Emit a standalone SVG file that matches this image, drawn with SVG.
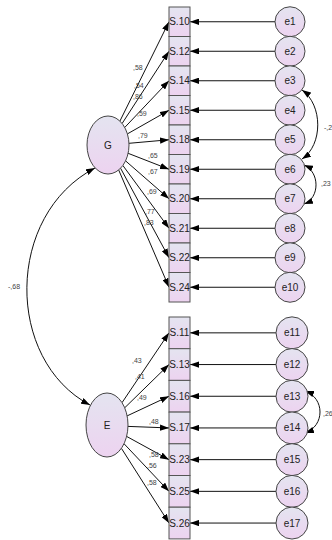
<svg xmlns="http://www.w3.org/2000/svg" width="332" height="540" viewBox="0 0 332 540">
<defs>
<linearGradient id="fill" x1="0" y1="0" x2="0" y2="1">
<stop offset="0" stop-color="#E4E4F0"/>
<stop offset="1" stop-color="#EDD3F0"/>
</linearGradient>
<marker id="ah" viewBox="0 0 10 7" refX="10" refY="3.5" markerUnits="userSpaceOnUse" markerWidth="9" markerHeight="6.3" orient="auto-start-reverse">
<path d="M0,0 L10,3.5 L0,7 z" fill="#000"/>
</marker>
</defs>
<style>
.box{fill:url(#fill);stroke:#555;stroke-width:1}
.lat{fill:url(#fill);stroke:#444;stroke-width:1}
.err{fill:url(#fill);stroke:#444;stroke-width:1}
.t{font-family:"Liberation Sans",Arial,sans-serif;font-size:10px;fill:#222;text-anchor:middle;dominant-baseline:central}
.l{font-family:"Liberation Sans",Arial,sans-serif;font-size:7px;fill:#444;dominant-baseline:central}
.c line,.c path{stroke:#111;stroke-width:1;fill:none;marker-end:url(#ah)}
.c path.d{marker-start:url(#ah)}
</style>

<g id="connectors" class="c">
<!-- G loadings -->
<line x1="119.9" y1="121.1" x2="169" y2="21.75"/>
<line x1="122.1" y1="123.5" x2="169" y2="51.25"/>
<line x1="124.7" y1="127.5" x2="169" y2="80.75"/>
<line x1="127.4" y1="133.9" x2="169" y2="110.25"/>
<line x1="129.0" y1="143.3" x2="169" y2="139.75"/>
<line x1="128.1" y1="153.3" x2="169" y2="169.25"/>
<line x1="125.6" y1="160.9" x2="169" y2="198.75"/>
<line x1="122.9" y1="165.5" x2="169" y2="228.25"/>
<line x1="120.6" y1="168.3" x2="169" y2="257.75"/>
<line x1="118.7" y1="170.0" x2="169" y2="287.25"/>
<!-- E loadings -->
<line x1="122.0" y1="402.7" x2="169" y2="332.85"/>
<line x1="124.7" y1="407.8" x2="169" y2="364.55"/>
<line x1="127.1" y1="415.9" x2="169" y2="396.25"/>
<line x1="128.0" y1="426.4" x2="169" y2="427.95"/>
<line x1="126.6" y1="436.4" x2="169" y2="459.65"/>
<line x1="124.0" y1="443.7" x2="169" y2="491.35"/>
<line x1="121.4" y1="448.3" x2="169" y2="523.05"/>
<!-- error arrows top -->
<line x1="275" y1="21.75" x2="190" y2="21.75"/>
<line x1="275" y1="51.25" x2="190" y2="51.25"/>
<line x1="275" y1="80.75" x2="190" y2="80.75"/>
<line x1="275" y1="110.25" x2="190" y2="110.25"/>
<line x1="275" y1="139.75" x2="190" y2="139.75"/>
<line x1="275" y1="169.25" x2="190" y2="169.25"/>
<line x1="275" y1="198.75" x2="190" y2="198.75"/>
<line x1="275" y1="228.25" x2="190" y2="228.25"/>
<line x1="275" y1="257.75" x2="190" y2="257.75"/>
<line x1="275" y1="287.25" x2="190" y2="287.25"/>
<!-- error arrows bottom -->
<line x1="276" y1="332.85" x2="190" y2="332.85"/>
<line x1="276" y1="364.55" x2="190" y2="364.55"/>
<line x1="276" y1="396.25" x2="190" y2="396.25"/>
<line x1="276" y1="427.95" x2="190" y2="427.95"/>
<line x1="276" y1="459.65" x2="190" y2="459.65"/>
<line x1="276" y1="491.35" x2="190" y2="491.35"/>
<line x1="276" y1="523.05" x2="190" y2="523.05"/>
<!-- covariances -->
<path class="d" d="M95,168 C5,215 5,360 90,405"/>
<path class="d" d="M302,90 C323,105 323,145 302,159"/>
<path class="d" d="M304,165 C320,172 320,198 304,204"/>
<path class="d" d="M305,391 C325,398 325,426 305,433"/>
</g>

<g id="G"><ellipse class="lat" cx="108" cy="145" rx="21" ry="29"/><text class="t" x="108" y="145">G</text></g>
<g id="E"><ellipse class="lat" cx="107" cy="425" rx="21" ry="32"/><text class="t" x="107" y="425">E</text></g>

<g id="S10"><rect class="box" x="169" y="7" width="21" height="29.5"/><text class="t" x="179.5" y="21.75">S.10</text></g>
<g id="S12"><rect class="box" x="169" y="36.5" width="21" height="29.5"/><text class="t" x="179.5" y="51.25">S.12</text></g>
<g id="S14"><rect class="box" x="169" y="66" width="21" height="29.5"/><text class="t" x="179.5" y="80.75">S.14</text></g>
<g id="S15"><rect class="box" x="169" y="95.5" width="21" height="29.5"/><text class="t" x="179.5" y="110.25">S.15</text></g>
<g id="S18"><rect class="box" x="169" y="125" width="21" height="29.5"/><text class="t" x="179.5" y="139.75">S.18</text></g>
<g id="S19"><rect class="box" x="169" y="154.5" width="21" height="29.5"/><text class="t" x="179.5" y="169.25">S.19</text></g>
<g id="S20"><rect class="box" x="169" y="184" width="21" height="29.5"/><text class="t" x="179.5" y="198.75">S.20</text></g>
<g id="S21"><rect class="box" x="169" y="213.5" width="21" height="29.5"/><text class="t" x="179.5" y="228.25">S.21</text></g>
<g id="S22"><rect class="box" x="169" y="243" width="21" height="29.5"/><text class="t" x="179.5" y="257.75">S.22</text></g>
<g id="S24"><rect class="box" x="169" y="272.5" width="21" height="29.5"/><text class="t" x="179.5" y="287.25">S.24</text></g>

<g id="S11"><rect class="box" x="169" y="317" width="21" height="31.7"/><text class="t" x="179.5" y="332.85">S.11</text></g>
<g id="S13"><rect class="box" x="169" y="348.7" width="21" height="31.7"/><text class="t" x="179.5" y="364.55">S.13</text></g>
<g id="S16"><rect class="box" x="169" y="380.4" width="21" height="31.7"/><text class="t" x="179.5" y="396.25">S.16</text></g>
<g id="S17"><rect class="box" x="169" y="412.1" width="21" height="31.7"/><text class="t" x="179.5" y="427.95">S.17</text></g>
<g id="S23"><rect class="box" x="169" y="443.8" width="21" height="31.7"/><text class="t" x="179.5" y="459.65">S.23</text></g>
<g id="S25"><rect class="box" x="169" y="475.5" width="21" height="31.7"/><text class="t" x="179.5" y="491.35">S.25</text></g>
<g id="S26"><rect class="box" x="169" y="507.2" width="21" height="31.7"/><text class="t" x="179.5" y="523.05">S.26</text></g>

<g id="e1"><circle class="err" cx="290" cy="21.75" r="15"/><text class="t" x="290" y="21.75">e1</text></g>
<g id="e2"><circle class="err" cx="290" cy="51.25" r="15"/><text class="t" x="290" y="51.25">e2</text></g>
<g id="e3"><circle class="err" cx="290" cy="80.75" r="15"/><text class="t" x="290" y="80.75">e3</text></g>
<g id="e4"><circle class="err" cx="290" cy="110.25" r="15"/><text class="t" x="290" y="110.25">e4</text></g>
<g id="e5"><circle class="err" cx="290" cy="139.75" r="15"/><text class="t" x="290" y="139.75">e5</text></g>
<g id="e6"><circle class="err" cx="290" cy="169.25" r="15"/><text class="t" x="290" y="169.25">e6</text></g>
<g id="e7"><circle class="err" cx="290" cy="198.75" r="15"/><text class="t" x="290" y="198.75">e7</text></g>
<g id="e8"><circle class="err" cx="290" cy="228.25" r="15"/><text class="t" x="290" y="228.25">e8</text></g>
<g id="e9"><circle class="err" cx="290" cy="257.75" r="15"/><text class="t" x="290" y="257.75">e9</text></g>
<g id="e10"><circle class="err" cx="290" cy="287.25" r="15"/><text class="t" x="290" y="287.25">e10</text></g>

<g id="e11"><circle class="err" cx="292" cy="332.85" r="16"/><text class="t" x="292" y="332.85">e11</text></g>
<g id="e12"><circle class="err" cx="292" cy="364.55" r="16"/><text class="t" x="292" y="364.55">e12</text></g>
<g id="e13"><circle class="err" cx="292" cy="396.25" r="16"/><text class="t" x="292" y="396.25">e13</text></g>
<g id="e14"><circle class="err" cx="292" cy="427.95" r="16"/><text class="t" x="292" y="427.95">e14</text></g>
<g id="e15"><circle class="err" cx="292" cy="459.65" r="16"/><text class="t" x="292" y="459.65">e15</text></g>
<g id="e16"><circle class="err" cx="292" cy="491.35" r="16"/><text class="t" x="292" y="491.35">e16</text></g>
<g id="e17"><circle class="err" cx="292" cy="523.05" r="16"/><text class="t" x="292" y="523.05">e17</text></g>

<g id="labels">
<text class="l" x="133" y="67">,58</text>
<text class="l" x="134" y="85">,54</text>
<text class="l" x="133" y="96">,86</text>
<text class="l" x="137" y="113">,59</text>
<text class="l" x="138" y="135">,79</text>
<text class="l" x="148" y="155">,65</text>
<text class="l" x="148" y="171">,67</text>
<text class="l" x="147" y="191">,69</text>
<text class="l" x="145" y="211">,77</text>
<text class="l" x="144" y="222">,83</text>
<text class="l" x="132" y="360">,43</text>
<text class="l" x="135" y="376">,41</text>
<text class="l" x="137" y="397">,49</text>
<text class="l" x="149" y="421">,48</text>
<text class="l" x="149" y="454">,58</text>
<text class="l" x="147" y="465">,56</text>
<text class="l" x="147" y="482">,58</text>
<text class="l" x="8" y="286">-,68</text>
<text class="l" x="324" y="127">-,2</text>
<text class="l" x="321" y="183">,23</text>
<text class="l" x="323" y="413">,26</text>
</g>
</svg>
